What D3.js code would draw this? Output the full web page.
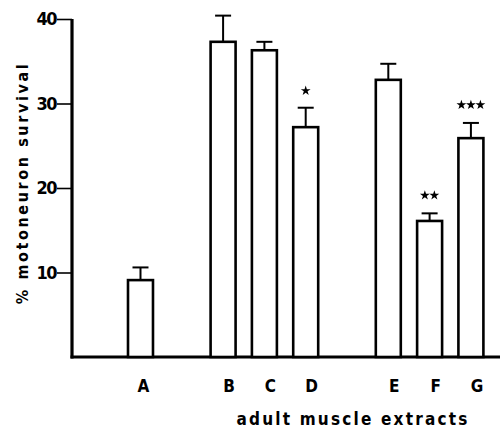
<!DOCTYPE html>
<html><head><meta charset="utf-8">
<script src="https://cdn.jsdelivr.net/npm/d3@7"></script>
<style>body{margin:0;background:#fff}svg{display:block}</style>
</head><body>
<script>
const categories = ["A","B","C","D","E","F","G"];
const slots = ["A","gap1","B","C","D","gap2","E","F","G"];
const values = [9.1, 37.3, 36.3, 27.2, 32.8, 16.1, 25.9];
const errors = [1.5, 3.1, 1.0, 2.3, 1.9, 0.9, 1.8];
const stars = ["", "", "", "*", "", "**", "***"];
const yTicks = [10, 20, 30, 40];
const yLabel = "% motoneuron survival";
const xLabel = "adult muscle extracts";

const W = 503, H = 428;
const svg = d3.select("body").append("svg").attr("width", W).attr("height", H);
const y = d3.scaleLinear().domain([0, 40]).range([357, 19]);
const x = d3.scaleBand().domain(slots).range([128, 483.4]).paddingInner(0.395).paddingOuter(0);
const bw = x.bandwidth();
const axisX = 72;
const font = "'DejaVu Sans Condensed', 'DejaVu Sans', sans-serif";

// y axis
const ya = svg.append("g").attr("transform", `translate(${axisX},0)`)
  .call(d3.axisLeft(y).tickValues(yTicks).tickSize(15).tickPadding(1).tickSizeOuter(0));
ya.select(".domain").remove();
ya.selectAll(".tick line").attr("stroke", "#000").attr("stroke-width", 1.6);
ya.selectAll(".tick text").attr("font-family", font).attr("font-weight", "bold")
  .attr("font-size", 18).attr("fill", "#000").attr("letter-spacing", -1.5);
svg.append("line").attr("x1", axisX).attr("x2", axisX).attr("y1", y(40)).attr("y2", y(0) + 1.5)
  .attr("stroke", "#000").attr("stroke-width", 3.2);
// baseline
svg.append("line").attr("x1", axisX - 1.5).attr("x2", 500).attr("y1", y(0)).attr("y2", y(0))
  .attr("stroke", "#000").attr("stroke-width", 3);

const data = categories.map((c, i) => ({c, v: values[i], e: errors[i], s: stars[i]}));

// error bars
const eb = svg.append("g").attr("stroke", "#000").attr("stroke-width", 2);
data.forEach(d => {
  const cx = x(d.c) + bw / 2;
  eb.append("line").attr("x1", cx).attr("x2", cx).attr("y1", y(d.v)).attr("y2", y(d.v + d.e));
  eb.append("line").attr("x1", cx - 8).attr("x2", cx + 8).attr("y1", y(d.v + d.e)).attr("y2", y(d.v + d.e));
});

// bars
svg.append("g").selectAll("rect").data(data).join("rect")
  .attr("x", d => x(d.c)).attr("width", bw)
  .attr("y", d => y(d.v)).attr("height", d => y(0) - y(d.v))
  .attr("fill", "#fff").attr("stroke", "#000").attr("stroke-width", 2.6);

// significance stars
const starSym = d3.symbol().type(d3.symbolStar).size(30);
data.forEach(d => {
  const n = d.s.length;
  if (!n) return;
  const cx = x(d.c) + bw / 2;
  const sy = y(d.v + d.e) - (n === 1 ? 17 : 18);
  for (let k = 0; k < n; k++) {
    const sx = cx + (k - (n - 1) / 2) * 9.5;
    svg.append("path").attr("d", starSym).attr("transform", `translate(${sx},${sy})`).attr("fill", "#000");
  }
});

// category labels
svg.append("g").selectAll("text").data(data).join("text")
  .attr("x", (d, i) => x(d.c) + bw / 2 + (i === 0 ? 3 : 6)).attr("y", 392)
  .attr("text-anchor", "middle").attr("font-family", font).attr("font-weight", "bold")
  .attr("font-size", 17).attr("fill", "#000").text(d => d.c);

// x label
svg.append("text").attr("x", 353).attr("y", 425).attr("text-anchor", "middle")
  .attr("font-family", font).attr("font-weight", "bold").attr("font-size", 17)
  .attr("letter-spacing", 2.2).attr("fill", "#000").text(xLabel);

// y label
svg.append("text").attr("transform", "translate(28,183) rotate(-90)").attr("text-anchor", "middle")
  .attr("font-family", font).attr("font-weight", "bold").attr("font-size", 16)
  .attr("letter-spacing", 2.6).attr("fill", "#000").text(yLabel);
</script>
</body></html>
